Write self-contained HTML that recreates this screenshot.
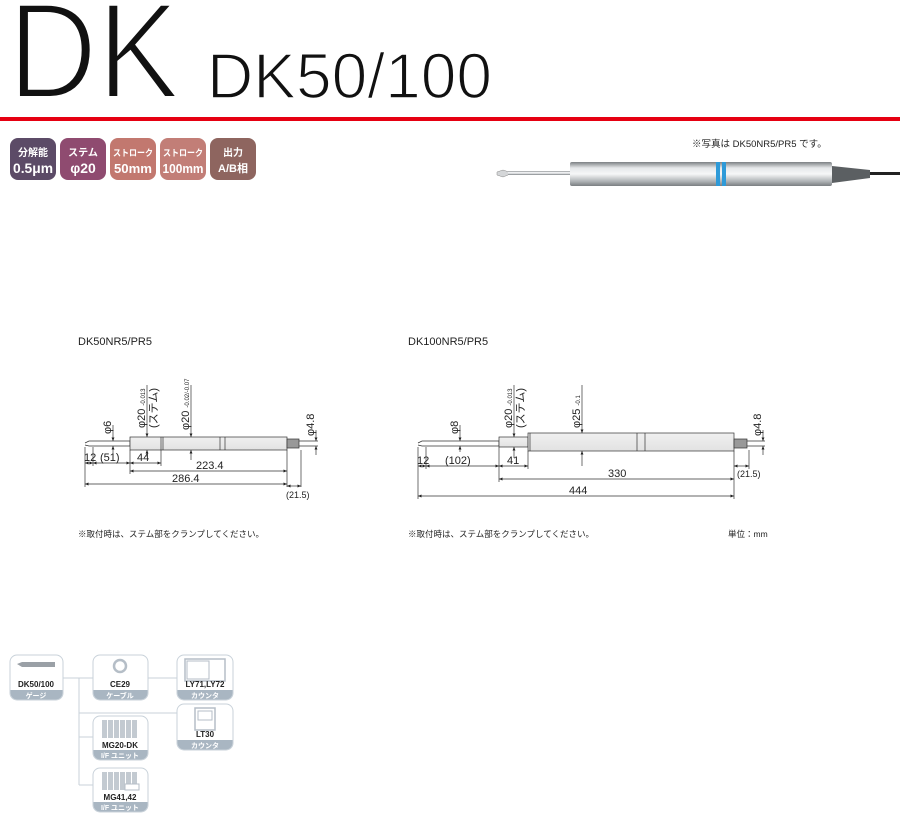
<!DOCTYPE html>
<html><head><meta charset="utf-8"><style>
body{margin:0;background:#fff;}
svg{display:block;font-family:"Liberation Sans","Noto Sans CJK JP",sans-serif;}
</style></head><body>
<svg width="900" height="818" viewBox="0 0 900 818" xmlns="http://www.w3.org/2000/svg">
<defs>
<linearGradient id="metal" x1="0" y1="0" x2="0" y2="1">
<stop offset="0" stop-color="#7c8083"/><stop offset="0.25" stop-color="#e6e8ea"/><stop offset="0.5" stop-color="#f6f7f8"/><stop offset="0.8" stop-color="#b0b4b7"/><stop offset="1" stop-color="#7a7e81"/></linearGradient>
<linearGradient id="bd" x1="0" y1="0" x2="0" y2="1"><stop offset="0" stop-color="#f0f0f0"/><stop offset="1" stop-color="#e2e2e2"/></linearGradient>
<marker id="a" viewBox="0 0 6 6" refX="6" refY="3" markerWidth="5" markerHeight="5" orient="auto-start-reverse"><path d="M0,0.5 L6,3 L0,5.5z" fill="#222"/></marker>
</defs>
<text x="8" y="98" font-size="137" fill="#111" stroke="#fff" stroke-width="4" textLength="172" lengthAdjust="spacingAndGlyphs">DK</text>
<text x="207" y="98" font-size="64" fill="#111" stroke="#fff" stroke-width="1.6" textLength="285" lengthAdjust="spacingAndGlyphs">DK50/100</text>
<rect x="0" y="117" width="900" height="4" fill="#e60012"/>
<g font-weight="bold" fill="#fff" text-anchor="middle">
<rect x="10" y="138" width="46" height="42" rx="8" fill="#5c4b67"/>
<text x="33" y="156" font-size="10">分解能</text><text x="33" y="173" font-size="14" textLength="40" lengthAdjust="spacingAndGlyphs">0.5μm</text>
<rect x="60" y="138" width="46" height="42" rx="8" fill="#8f4b70"/>
<text x="83" y="156" font-size="10">ステム</text><text x="83" y="173" font-size="14">φ20</text>
<rect x="110" y="138" width="46" height="42" rx="8" fill="#c2786f"/>
<text x="133" y="156" font-size="9" textLength="40" lengthAdjust="spacingAndGlyphs">ストローク</text><text x="133" y="173" font-size="13" textLength="38" lengthAdjust="spacingAndGlyphs">50mm</text>
<rect x="160" y="138" width="46" height="42" rx="8" fill="#c27e77"/>
<text x="183" y="156" font-size="9" textLength="40" lengthAdjust="spacingAndGlyphs">ストローク</text><text x="183" y="173" font-size="12.5" textLength="41" lengthAdjust="spacingAndGlyphs">100mm</text>
<rect x="210" y="138" width="46" height="42" rx="8" fill="#8e655f"/>
<text x="233" y="156" font-size="10">出力</text><text x="233" y="172" font-size="11">A/B相</text>
</g>
<text x="692" y="147" font-size="9.5" fill="#222">※写真は DK50NR5/PR5 です。</text>
<path d="M497,172 L503,170 L509,172 L508,175 L503,177 L497,175z" fill="#d4d6d8" stroke="#888" stroke-width="0.5"/>
<rect x="508" y="171" width="62" height="4" fill="url(#metal)"/>
<rect x="570" y="162" width="262" height="24" rx="2" fill="url(#metal)"/>
<rect x="716" y="162" width="4" height="24" fill="#2e9ad8"/><rect x="722" y="162" width="4" height="24" fill="#2e9ad8"/>
<path d="M832,166 L870,170 L870,178 L832,183z" fill="#5b5f62"/>
<rect x="870" y="172" width="30" height="3" fill="#222"/>
<text x="78" y="345" font-size="11" fill="#222">DK50NR5/PR5</text>
<text x="408" y="345" font-size="11" fill="#222">DK100NR5/PR5</text>
<g stroke="#333" stroke-width="0.7" fill="none">
<path d="M85,443 L89,441 L130,441 L130,446 L89,446 L85,445"/>
<rect x="130" y="437" width="157" height="13" fill="url(#bd)"/>
<line x1="161" y1="437" x2="161" y2="450"/><line x1="163" y1="437" x2="163" y2="450"/>
<line x1="220" y1="437" x2="220" y2="450"/><line x1="225" y1="437" x2="225" y2="450"/>
<rect x="287" y="439" width="12" height="9" fill="#999"/>
<line x1="299" y1="441" x2="318" y2="441"/><line x1="299" y1="446" x2="318" y2="446"/>
<line x1="85" y1="447" x2="85" y2="487"/><line x1="93" y1="447" x2="93" y2="466"/>
<line x1="130" y1="450" x2="130" y2="474"/><line x1="161" y1="450" x2="161" y2="466"/>
<line x1="287" y1="450" x2="287" y2="487"/><line x1="301" y1="450" x2="301" y2="487"/>
<line x1="85" y1="463" x2="93" y2="463" marker-start="url(#a)" marker-end="url(#a)"/>
<line x1="93" y1="463" x2="130" y2="463" marker-start="url(#a)" marker-end="url(#a)"/>
<line x1="130" y1="463" x2="161" y2="463" marker-start="url(#a)" marker-end="url(#a)"/>
<line x1="130" y1="471" x2="287" y2="471" marker-start="url(#a)" marker-end="url(#a)"/>
<line x1="85" y1="484" x2="287" y2="484" marker-start="url(#a)" marker-end="url(#a)"/>
<line x1="287" y1="486" x2="301" y2="486" marker-start="url(#a)" marker-end="url(#a)"/>
<line x1="113" y1="425" x2="113" y2="441" marker-end="url(#a)"/><line x1="113" y1="455" x2="113" y2="446" marker-end="url(#a)"/>
<line x1="147" y1="385" x2="147" y2="437" marker-end="url(#a)"/><line x1="147" y1="457" x2="147" y2="450" marker-end="url(#a)"/>
<line x1="191" y1="385" x2="191" y2="437" marker-end="url(#a)"/><line x1="191" y1="460" x2="191" y2="450" marker-end="url(#a)"/>
<line x1="316" y1="430" x2="316" y2="441" marker-end="url(#a)"/><line x1="316" y1="455" x2="316" y2="446" marker-end="url(#a)"/>
</g>
<g font-size="11" fill="#222">
<text x="84" y="461">12</text><text x="100" y="461">(51)</text><text x="137" y="461">44</text>
<text x="196" y="469">223.4</text><text x="172" y="482">286.4</text><text x="286" y="498" font-size="9">(21.5)</text>
<text transform="translate(111,434) rotate(-90)">φ6</text>
<text transform="translate(145,428) rotate(-90)">φ20 <tspan font-size="6">-0.013</tspan></text>
<text transform="translate(157,428) rotate(-90)">(ステム)</text>
<text transform="translate(189,430) rotate(-90)">φ20 <tspan font-size="6">-0.02/-0.07</tspan></text>
<text transform="translate(314,436) rotate(-90)">φ4.8</text>
</g>
<g stroke="#333" stroke-width="0.7" fill="none">
<path d="M418,443 L422,441 L499,441 L499,446 L422,446 L418,445"/>
<rect x="499" y="437" width="29" height="10" fill="url(#bd)"/>
<rect x="528" y="433" width="206" height="18" fill="url(#bd)"/>
<line x1="530" y1="433" x2="530" y2="451"/>
<line x1="637" y1="433" x2="637" y2="451"/><line x1="645" y1="433" x2="645" y2="451"/>
<rect x="734" y="439" width="13" height="9" fill="#999"/>
<line x1="747" y1="441" x2="765" y2="441"/><line x1="747" y1="446" x2="765" y2="446"/>
<line x1="418" y1="447" x2="418" y2="499"/><line x1="426" y1="447" x2="426" y2="469"/>
<line x1="499" y1="447" x2="499" y2="482"/><line x1="528" y1="451" x2="528" y2="469"/>
<line x1="734" y1="451" x2="734" y2="499"/><line x1="749" y1="450" x2="749" y2="469"/>
<line x1="418" y1="466" x2="426" y2="466" marker-start="url(#a)" marker-end="url(#a)"/>
<line x1="426" y1="466" x2="499" y2="466" marker-start="url(#a)" marker-end="url(#a)"/>
<line x1="499" y1="466" x2="528" y2="466" marker-start="url(#a)" marker-end="url(#a)"/>
<line x1="499" y1="479" x2="734" y2="479" marker-start="url(#a)" marker-end="url(#a)"/>
<line x1="418" y1="496" x2="734" y2="496" marker-start="url(#a)" marker-end="url(#a)"/>
<line x1="734" y1="466" x2="749" y2="466" marker-start="url(#a)" marker-end="url(#a)"/>
<line x1="460" y1="425" x2="460" y2="441" marker-end="url(#a)"/><line x1="460" y1="452" x2="460" y2="446" marker-end="url(#a)"/>
<line x1="514" y1="385" x2="514" y2="437" marker-end="url(#a)"/><line x1="514" y1="458" x2="514" y2="447" marker-end="url(#a)"/>
<line x1="582" y1="385" x2="582" y2="433" marker-end="url(#a)"/><line x1="582" y1="466" x2="582" y2="451" marker-end="url(#a)"/>
<line x1="763" y1="430" x2="763" y2="441" marker-end="url(#a)"/><line x1="763" y1="455" x2="763" y2="446" marker-end="url(#a)"/>
</g>
<g font-size="11" fill="#222">
<text x="417" y="464">12</text><text x="445" y="464">(102)</text><text x="507" y="464">41</text>
<text x="608" y="477">330</text><text x="569" y="494">444</text><text x="737" y="477" font-size="9">(21.5)</text>
<text transform="translate(458,434) rotate(-90)">φ8</text>
<text transform="translate(512,428) rotate(-90)">φ20 <tspan font-size="6">-0.013</tspan></text>
<text transform="translate(524,428) rotate(-90)">(ステム)</text>
<text transform="translate(580,428) rotate(-90)">φ25 <tspan font-size="6">-0.1</tspan></text>
<text transform="translate(761,436) rotate(-90)">φ4.8</text>
</g>
<g font-size="8.5" fill="#222">
<text x="78" y="537">※取付時は、ステム部をクランプしてください。</text>
<text x="408" y="537">※取付時は、ステム部をクランプしてください。</text>
<text x="728" y="537">単位：mm</text>
</g>
<g stroke="#c9d2da" stroke-width="1" fill="none">
<line x1="63" y1="678" x2="177" y2="678"/>
<line x1="79" y1="678" x2="79" y2="785"/>
<line x1="79" y1="713" x2="177" y2="713"/>
<line x1="79" y1="737" x2="93" y2="737"/>
<line x1="79" y1="785" x2="93" y2="785"/>
</g>
<g font-size="8" font-weight="bold" text-anchor="middle">
<g>
<rect x="10" y="655" width="53" height="45" rx="7" fill="#fff" stroke="#c9d2da"/>
<path d="M10.5,690 h52 v3 a6.5,6.5 0 0 1 -6.5,6.5 h-39 a6.5,6.5 0 0 1 -6.5,-6.5z" fill="#a9b6c2"/>
<path d="M17,664 L22,662 L55,662 L55,667 L22,667z" fill="#9aa0a6"/>
<text x="36" y="687" fill="#222">DK50/100</text><text x="36" y="698" fill="#fff" font-size="7">ゲージ</text>
</g>
<g>
<rect x="93" y="655" width="55" height="45" rx="7" fill="#fff" stroke="#c9d2da"/>
<path d="M93.5,690 h54 v3 a6.5,6.5 0 0 1 -6.5,6.5 h-41 a6.5,6.5 0 0 1 -6.5,-6.5z" fill="#a9b6c2"/>
<circle cx="120" cy="666" r="6" fill="none" stroke="#b5bec7" stroke-width="2.5"/>
<text x="120" y="687" fill="#222">CE29</text><text x="120" y="698" fill="#fff" font-size="7">ケーブル</text>
</g>
<g>
<rect x="177" y="655" width="56" height="45" rx="7" fill="#fff" stroke="#c9d2da"/>
<path d="M177.5,690 h55 v3 a6.5,6.5 0 0 1 -6.5,6.5 h-42 a6.5,6.5 0 0 1 -6.5,-6.5z" fill="#a9b6c2"/>
<rect x="185" y="659" width="40" height="22" fill="#fff" stroke="#b5bec7" stroke-width="1.5"/>
<rect x="187" y="661" width="22" height="18" fill="none" stroke="#b5bec7"/>
<text x="205" y="687" fill="#222">LY71,LY72</text><text x="205" y="698" fill="#fff" font-size="7">カウンタ</text>
</g>
<g>
<rect x="177" y="704" width="56" height="46" rx="7" fill="#fff" stroke="#c9d2da"/>
<path d="M177.5,740 h55 v3 a6.5,6.5 0 0 1 -6.5,6.5 h-42 a6.5,6.5 0 0 1 -6.5,-6.5z" fill="#a9b6c2"/>
<rect x="195" y="708" width="20" height="22" fill="#fff" stroke="#b5bec7" stroke-width="1.5"/>
<rect x="198" y="711" width="14" height="9" fill="none" stroke="#b5bec7"/>
<text x="205" y="737" fill="#222">LT30</text><text x="205" y="748" fill="#fff" font-size="7">カウンタ</text>
</g>
<g>
<rect x="93" y="716" width="55" height="44" rx="7" fill="#fff" stroke="#c9d2da"/>
<path d="M93.5,750 h54 v3 a6.5,6.5 0 0 1 -6.5,6.5 h-41 a6.5,6.5 0 0 1 -6.5,-6.5z" fill="#a9b6c2"/>
<g fill="#c3cad1"><rect x="102" y="720" width="5" height="18"/><rect x="108" y="720" width="5" height="18"/><rect x="114" y="720" width="5" height="18"/><rect x="120" y="720" width="5" height="18"/><rect x="126" y="720" width="5" height="18"/><rect x="132" y="720" width="5" height="18"/></g>
<text x="120" y="748" fill="#222">MG20-DK</text><text x="120" y="758" fill="#fff" font-size="7">I/F ユニット</text>
</g>
<g>
<rect x="93" y="768" width="55" height="44" rx="7" fill="#fff" stroke="#c9d2da"/>
<path d="M93.5,802 h54 v3 a6.5,6.5 0 0 1 -6.5,6.5 h-41 a6.5,6.5 0 0 1 -6.5,-6.5z" fill="#a9b6c2"/>
<g fill="#c3cad1"><rect x="102" y="772" width="5" height="18"/><rect x="108" y="772" width="5" height="18"/><rect x="114" y="772" width="5" height="18"/><rect x="120" y="772" width="5" height="18"/><rect x="126" y="772" width="5" height="18"/><rect x="132" y="772" width="5" height="18"/></g>
<rect x="125" y="784" width="14" height="6" fill="#fff" stroke="#b5bec7"/>
<text x="120" y="800" fill="#222">MG41,42</text><text x="120" y="810" fill="#fff" font-size="7">I/F ユニット</text>
</g>
</g>
</svg>
</body></html>
